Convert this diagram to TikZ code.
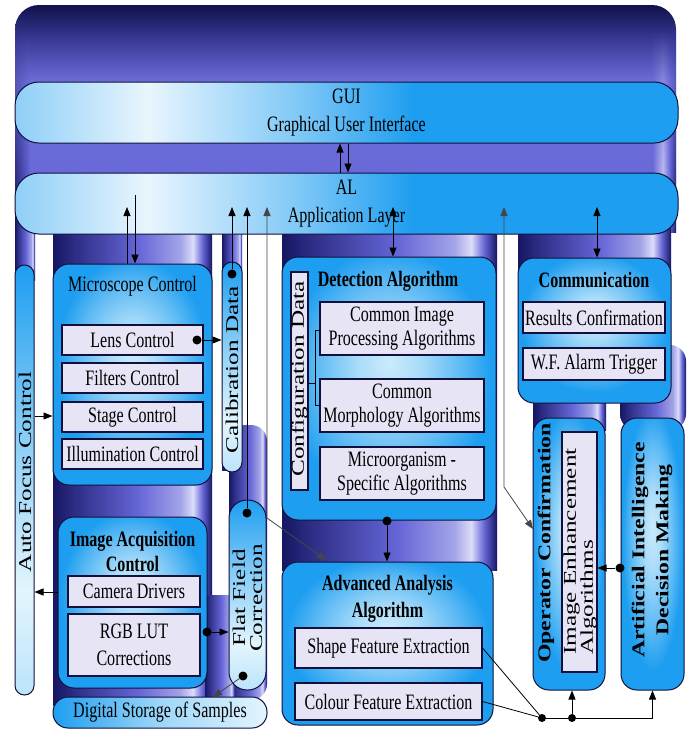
\documentclass[tikz,border=0pt]{standalone}
\usepackage{fontspec}
\setmainfont[FakeStretch=0.73]{Liberation Serif}
\newfontfamily\rotfont[FakeStretch=1.4]{Liberation Serif}
\newfontfamily\rotbfont[FakeStretch=1.32]{Liberation Serif}
\usetikzlibrary{arrows.meta,fadings}
\definecolor{navy}{HTML}{161663}
\definecolor{purp}{HTML}{6666D8}
\definecolor{hl}{HTML}{DCDCFA}
\definecolor{bblue}{HTML}{1E9EF0}
\definecolor{lblue}{HTML}{E2F5FD}
\definecolor{lav}{HTML}{E6E4F5}
\definecolor{edge}{HTML}{10103A}
% a shaded path covers the band 25bp..75bp of these shadings
\tikzfading[name=fadetop, top color=transparent!100, bottom color=transparent!0]
\pgfdeclareverticalshading{panelshade}{100bp}{color(0bp)=(purp); color(25bp)=(purp); color(58bp)=(purp!95!white); color(68bp)=(navy!60!purp); color(75bp)=(navy!75!black); color(100bp)=(navy!75!black)}
\pgfdeclarehorizontalshading{edgeR}{100bp}{color(0bp)=(purp); color(25bp)=(purp); color(48bp)=(hl); color(62bp)=(purp); color(75bp)=(navy); color(100bp)=(navy)}
\pgfdeclarehorizontalshading{edgeL}{100bp}{color(0bp)=(navy); color(25bp)=(navy); color(75bp)=(purp); color(100bp)=(purp)}
\pgfdeclarehorizontalshading{colshade}{100bp}{color(0bp)=(navy); color(25bp)=(navy); color(32bp)=(navy!70!purp); color(52bp)=(purp); color(65bp)=(purp!60!white); color(69bp)=(hl); color(72bp)=(purp); color(75bp)=(navy); color(100bp)=(navy)}
\pgfdeclareradialshading{boxshade}{\pgfpoint{0bp}{5bp}}{color(0bp)=(lblue!88!bblue); color(7bp)=(lblue!72!bblue); color(17bp)=(bblue!68!lblue); color(24bp)=(bblue); color(50bp)=(bblue)}
\pgfdeclarehorizontalshading{barshade}{100bp}{color(0bp)=(bblue!50!white); color(25bp)=(bblue!50!white); color(35bp)=(white!90!bblue); color(46bp)=(bblue!55!white); color(55bp)=(bblue); color(100bp)=(bblue)}
\pgfdeclareverticalshading{pillshade}{100bp}{color(0bp)=(lblue!80!bblue); color(25bp)=(lblue!80!bblue); color(37bp)=(lblue); color(55bp)=(lblue!55!bblue); color(75bp)=(bblue); color(100bp)=(bblue)}
\pgfdeclarehorizontalshading{storeshade}{100bp}{color(0bp)=(bblue); color(25bp)=(bblue); color(50bp)=(lblue!65!bblue); color(75bp)=(lblue); color(100bp)=(lblue)}
\begin{document}
\begin{tikzpicture}[x=1pt,y=-1pt,
  bar/.style={draw=edge, line width=1pt, shading=barshade, rounded corners=24pt, minimum width=663pt, minimum height=61pt, inner sep=0pt, align=center, font=\fontsize{22}{28}\selectfont},
  mbox/.style={draw=edge, line width=1pt, shading=boxshade, rounded corners=16pt, inner sep=0pt},
  pill/.style={draw=edge, line width=1pt, shading=pillshade, inner sep=0pt},
  subbox/.style={draw=edge, line width=1.1pt, fill=lav, inner sep=0pt, align=center, font=\fontsize{22}{24}\selectfont},
  ttl/.style={inner sep=0pt, align=center, font=\fontsize{22}{25}\selectfont},
  ttlb/.style={inner sep=0pt, align=center, font=\bfseries\fontsize{22}{26}\selectfont},
  rtxt/.style={inner sep=0pt, rotate=90, align=center, font=\rotfont\fontsize{18}{17}\selectfont},
  rtxtb/.style={inner sep=0pt, rotate=90, align=center, font=\rotbfont\bfseries\fontsize{18}{24}\selectfont},
  dot/.style={circle, fill=black, inner sep=0pt, minimum size=9pt},
  arr/.style={-{Triangle[length=9pt,width=7pt]}, line width=0.9pt, draw=black},
  arr2/.style={{Triangle[length=9pt,width=7pt]}-{Triangle[length=9pt,width=7pt]}, line width=0.9pt, draw=black},
  garr/.style={-{Triangle[length=9pt,width=7pt]}, line width=0.8pt, draw=gray!55!black},
  garr2/.style={{Triangle[length=9pt,width=7pt]}-{Triangle[length=9pt,width=7pt]}, line width=0.8pt, draw=gray!55!black},
  ln/.style={line width=0.8pt, draw=black}]
\useasboundingbox (0,0) rectangle (690,729);
\fill[white] (0,0) rectangle (690,729);
% background panel
\shade[shading=panelshade, rounded corners=24pt] (15,5) rectangle (676,232);
\shade[shading=edgeR, path fading=fadetop] (652,30) rectangle (676,232);
\shade[shading=edgeL, path fading=fadetop] (15,30) rectangle (30,232);
% columns
\shade[shading=colshade] (15,215) rectangle (35,280);
\shade[shading=colshade] (53,215) rectangle (212,705);
\shade[shading=colshade] (222,215) rectangle (242,470);
\shade[shading=colshade, rounded corners=16pt] (229,425) rectangle (267,700);
\shade[shading=colshade] (205,595) rectangle (235,700);
\shade[shading=colshade] (282,215) rectangle (497,570);
\shade[shading=colshade] (518,215) rectangle (671,270);
\shade[shading=colshade] (533,395) rectangle (606,430);
\shade[shading=colshade, rounded corners=16pt] (620,345) rectangle (686,430);
% bars
\node[bar] (gui) at (346.5,112.5) {GUI\\Graphical User Interface};
\node[bar] (al) at (346.5,203.5) {AL\\Application Layer};
% microscope
\node[mbox, minimum width=159pt, minimum height=221pt] (micro) at (132.5,374.5) {};
\node[ttl] (microt) at (132.5,286) {Microscope Control};
\node[subbox, minimum width=141pt, minimum height=30pt] (lens) at (132.5,340) {Lens Control};
\node[subbox, minimum width=141pt, minimum height=30pt] (filt) at (132.5,378) {Filters Control};
\node[subbox, minimum width=141pt, minimum height=30pt] (stage) at (132.5,417) {Stage Control};
\node[subbox, minimum width=141pt, minimum height=30pt] (illum) at (132.5,454) {Illumination Control};
% image acquisition
\node[mbox, minimum width=149pt, minimum height=171pt] (iac) at (132.5,602.5) {};
\node[ttlb, font=\bfseries\fontsize{22}{25}\selectfont] (iact) at (132.5,551) {Image Acquisition\\Control};
\node[subbox, minimum width=132pt, minimum height=31pt] (cam) at (134,591.5) {Camera Drivers};
\node[subbox, minimum width=132pt, minimum height=62pt, font=\fontsize{22}{27}\selectfont] (rgb) at (134,645) {RGB LUT\\Corrections};
% pills
\node[pill, minimum width=19pt, minimum height=430pt, rounded corners=9.4pt] (af) at (24.5,480) {};
\node[rtxt] (aft) at (25,472) {Auto Focus Control};
\node[pill, minimum width=20pt, minimum height=210pt, rounded corners=9.9pt] (cal) at (232,367) {};
\node[rtxt] (calt) at (232,370) {Calibration Data};
\node[pill, minimum width=37pt, minimum height=190pt, rounded corners=18pt] (ff) at (247.5,595) {};
\node[rtxt] (fft) at (247.5,598) {Flat Field\\Correction};
\node[draw=edge, line width=1pt, shading=storeshade, rounded corners=15pt, minimum width=214pt, minimum height=31pt, inner sep=0pt, font=\fontsize{22}{24}\selectfont] (store) at (160,712.5) {Digital Storage of Samples};
% detection
\node[mbox, minimum width=214pt, minimum height=263pt] (det) at (389,388.5) {};
\node[ttlb] (dett) at (388,281) {Detection Algorithm};
\node[subbox, minimum width=17pt, minimum height=218pt] (config) at (299.5,381) {};
\node[rtxt] (configt) at (299.5,379) {Configuration Data};
\node[subbox, minimum width=164pt, minimum height=53pt] (cip) at (402,328.5) {Common Image\\Processing Algorithms};
\node[subbox, minimum width=164pt, minimum height=53pt] (cma) at (402,405.5) {Common\\Morphology Algorithms};
\node[subbox, minimum width=164pt, minimum height=53pt] (msa) at (402,473.5) {Microorganism -\\Specific Algorithms};
\coordinate (bkm) at (315,383);
\coordinate (bkt) at (315,330);
\coordinate (bkb) at (315,405);
\draw[ln] (bkm -| config.east) -- (bkm);
\draw[ln] (bkt -| cip.west) -- (bkt) -- (bkb) -- (bkb -| cma.west);
% advanced
\node[mbox, minimum width=211pt, minimum height=163pt] (adv) at (387.5,643.5) {};
\node[ttlb, font=\bfseries\fontsize{22}{27}\selectfont] (advt) at (387.5,599) {Advanced Analysis\\Algorithm};
\node[subbox, minimum width=187pt, minimum height=40pt] (shape) at (388.5,648) {Shape Feature Extraction};
\node[subbox, minimum width=187pt, minimum height=37pt] (colour) at (388.5,701.5) {Colour Feature Extraction};
% communication
\node[mbox, minimum width=153pt, minimum height=145pt] (comm) at (594.5,330.5) {};
\node[ttlb] (commt) at (594,280) {Communication};
\node[subbox, minimum width=142pt, minimum height=31pt] (res) at (594,317.5) {Results Confirmation};
\node[subbox, minimum width=142pt, minimum height=32pt] (wf) at (594,364) {W.F. Alarm Trigger};
% operator
\node[mbox, minimum width=72pt, minimum height=272pt] (op) at (569,554) {};
\node[rtxtb] (opt) at (546,543) {Operator Confirmation};
\node[subbox, minimum width=35pt, minimum height=240pt] (ie) at (579.5,552) {};
\node[rtxt, anchor=west, align=left] (iet) at (580,655) {Image Enhancement\\Algorithms};
% AI
\node[mbox, minimum width=63pt, minimum height=272pt] (ai) at (652.5,554) {};
\node[rtxtb] (ait) at (652,550) {Artificial Intelligence\\Decision Making};
% coordinates
\coordinate (yin) at (0,207);
\coordinate (ytop) at (0,195);
\coordinate (cx1) at (340,0);
\coordinate (cx2) at (348,0);
\coordinate (mx1) at (127,0);
\coordinate (mx2) at (135,0);
\coordinate (dx) at (393,0);
\coordinate (kx) at (597,0);
\coordinate (gx) at (504,0);
\coordinate (hx) at (267,0);
\coordinate (hbend) at (267,518);
\coordinate (hend) at (326,560);
\coordinate (gbend) at (504,487);
\coordinate (gend) at (533,529);
\coordinate (afy1) at (0,416);
\coordinate (afy2) at (0,592);
\coordinate (stin) at (213,697);
% dots
\node[dot] (lensdot) at (197,340) {};
\node[dot] (caldot) at (232,274) {};
\node[dot] (ffdot) at (247,513) {};
\node[dot] (rgbdot) at (207,632) {};
\node[dot] (ffdot2) at (243,676) {};
\node[dot] (detdot) at (387,521) {};
\node[dot] (aidot) at (620,568) {};
% connectors
\draw[arr] (cx1 |- al.north) -- (cx1 |- gui.south);
\draw[arr] (cx2 |- gui.south) -- (cx2 |- al.north);
\draw[arr] (mx1 |- micro.north) -- (mx1 |- yin);
\draw[arr] (mx2 |- ytop) -- (mx2 |- micro.north);
\draw[arr] (caldot) -- (caldot |- yin);
\draw[arr] (ffdot) -- (ffdot |- yin);
\draw[arr] (lensdot) -- (lensdot -| cal.west);
\draw[garr2] (hx |- yin) -- (hbend) -- (hend);
\draw[arr2] (dx |- yin) -- (dx |- det.north);
\draw[arr2] (kx |- yin) -- (kx |- comm.north);
\draw[garr2] (gx |- yin) -- (gbend) -- (gend);
\draw[arr] (af.east |- afy1) -- (micro.west |- afy1);
\draw[arr] (iac.west |- afy2) -- (af.east |- afy2);
\draw[arr] (rgbdot) -- (rgbdot -| ff.west);
\draw[garr] (ffdot2) -- (stin);
\draw[arr] (detdot) -- (detdot |- adv.north);
\node[dot, minimum size=8pt] (j1) at (542,718) {};
\node[dot, minimum size=8pt] (j2) at (572,718) {};
\draw[ln] (shape.east) -- (j1);
\draw[ln] (colour.east) -- (j1);
\draw[ln] (j1) -- (j2);
\draw[arr] (j2) -- (j2 |- op.south);
\draw[arr] (j2) -| (ai.south);
\draw[arr] (aidot) -- (aidot -| ie.east);
\end{tikzpicture}
\end{document}
